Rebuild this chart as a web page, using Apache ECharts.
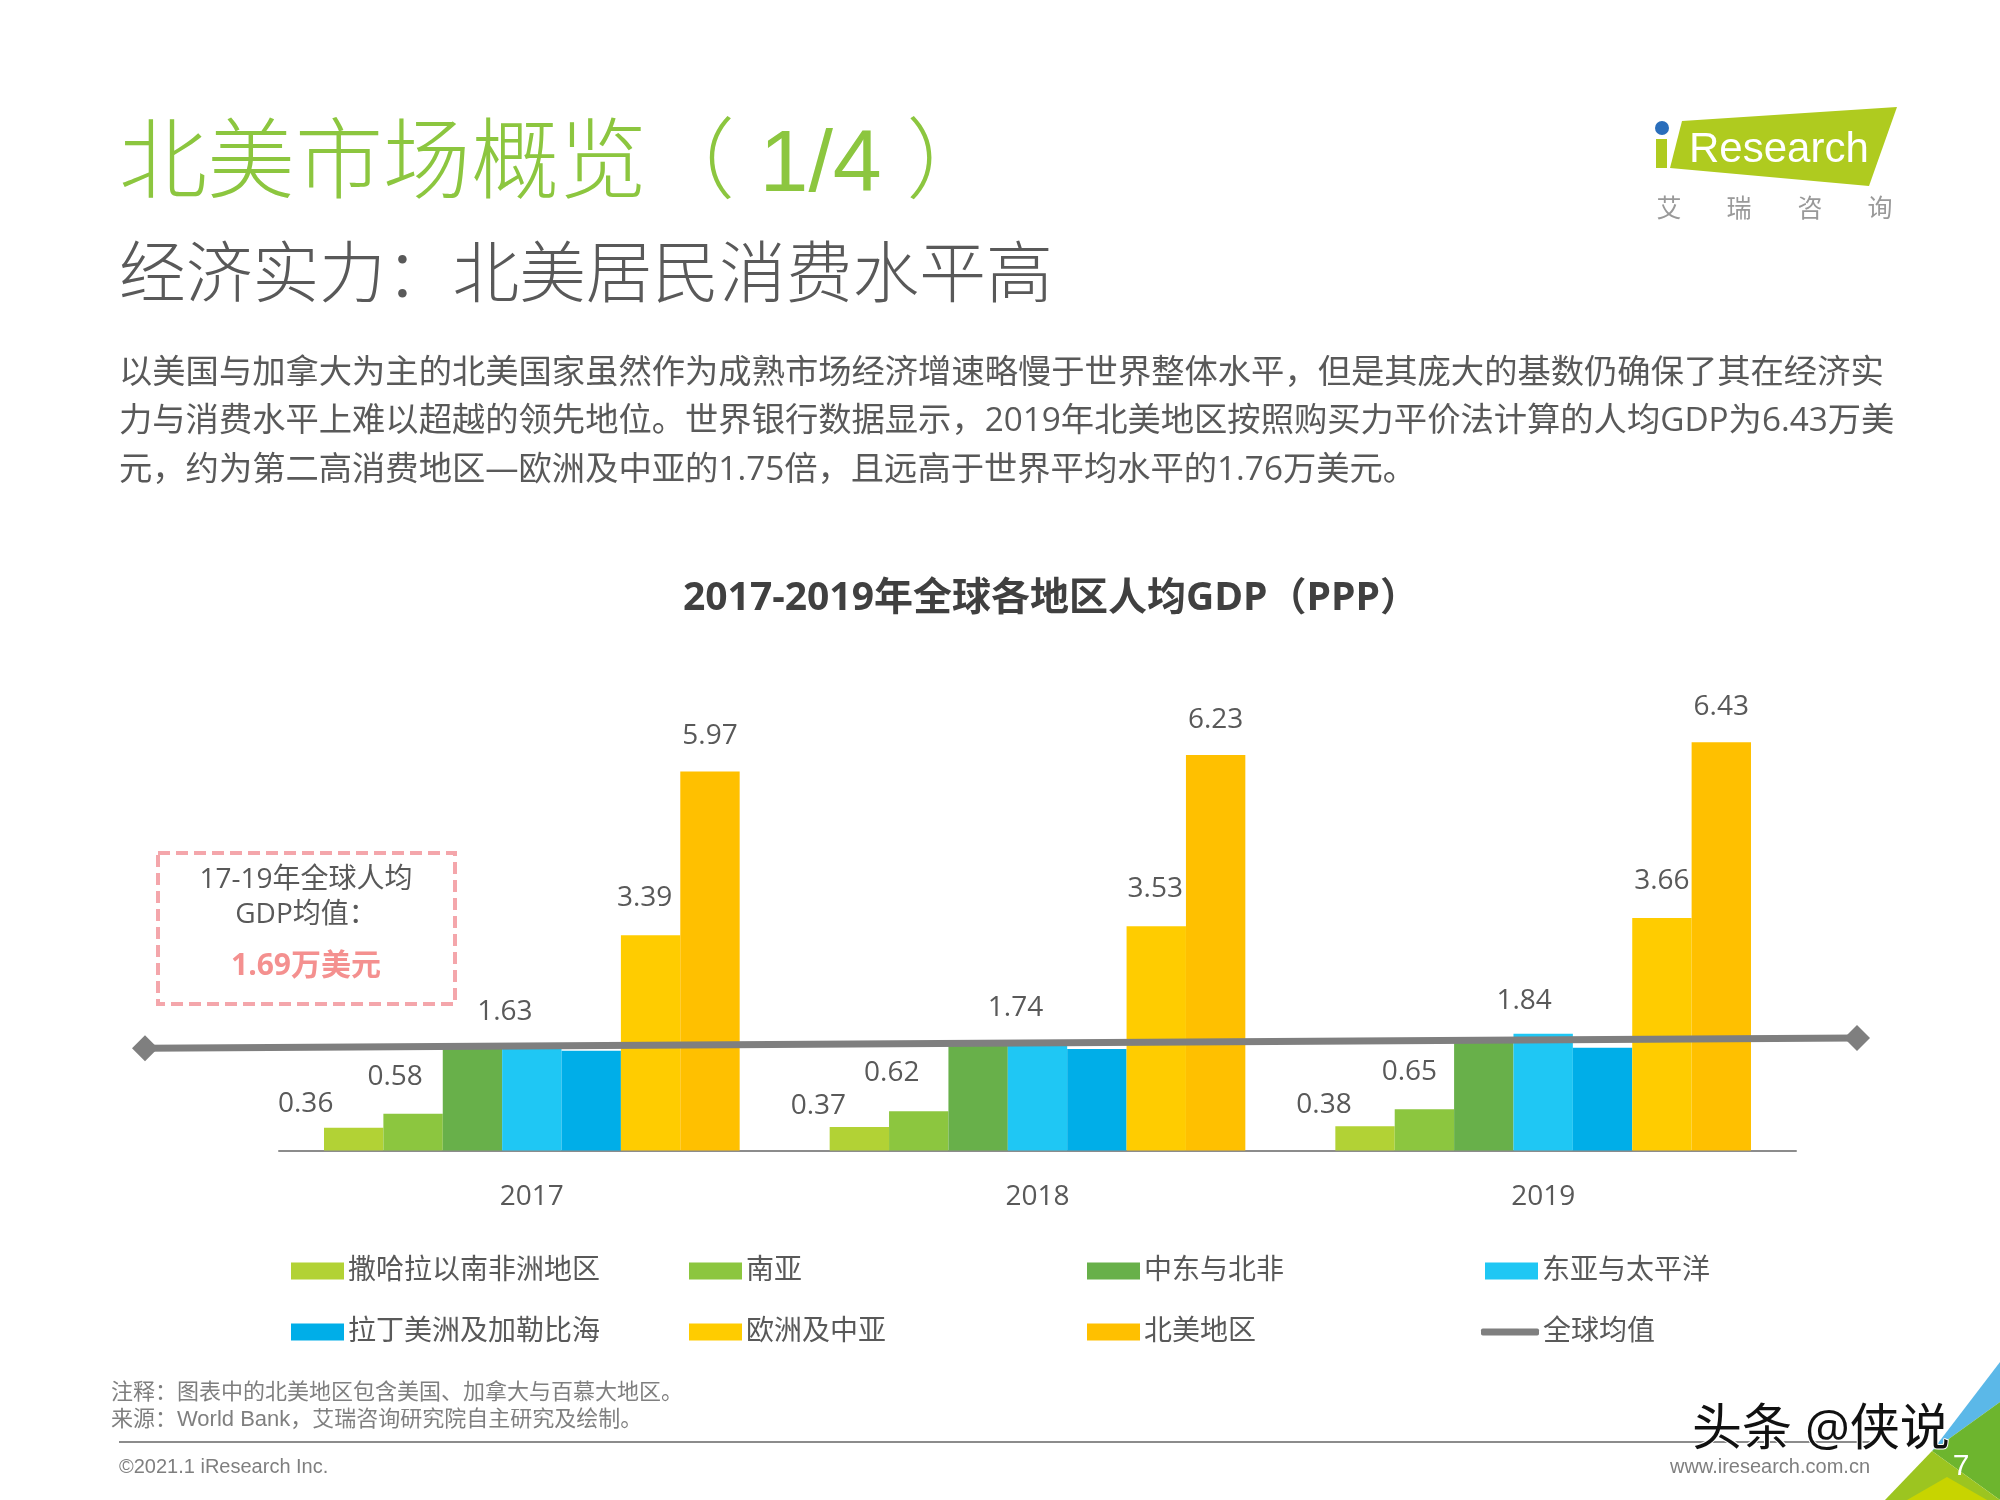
<!DOCTYPE html>
<html>
<head>
<meta charset="utf-8">
<title>北美市场概览</title>
<script src="https://cdn.jsdelivr.net/npm/echarts@6/dist/echarts.min.js"></script>
<style>
  html, body { margin: 0; padding: 0; background: #fff; }
  #main { width: 2000px; height: 1500px; }
</style>
</head>
<body>
<div id="main"></div>
<script>
// data
const years = ['2017', '2018', '2019'];
const regions = ['撒哈拉以南非洲地区', '南亚', '中东与北非', '东亚与太平洋', '拉丁美洲及加勒比海', '欧洲及中亚', '北美地区'];
const subSaharan = [0.36, 0.37, 0.38];
const southAsia = [0.58, 0.62, 0.65];
const middleEast = [1.64, 1.68, 1.71];
const eastAsia = [1.63, 1.74, 1.84];
const latinAmerica = [1.57, 1.60, 1.62];
const europe = [3.39, 3.53, 3.66];
const northAmerica = [5.97, 6.23, 6.43];
const avgName = '全球均值';
const avgEnds = [1.61, 1.77];

const paragraph = [
  '以美国与加拿大为主的北美国家虽然作为成熟市场经济增速略慢于世界整体水平，但是其庞大的基数仍确保了其在经济实',
  '力与消费水平上难以超越的领先地位。世界银行数据显示，2019年北美地区按照购买力平价法计算的人均GDP为6.43万美',
  '元，约为第二高消费地区—欧洲及中亚的1.75倍，且远高于世界平均水平的1.76万美元。'
];

const FONT = '"Open Sans", "Noto Sans CJK SC", sans-serif';
const ARIAL = '"Liberation Sans", "Noto Sans CJK SC", sans-serif';
const TEXT_GRAY = '#595959';

// bar series; labelShift moves the hand placed labels of the original
const barSeries = [
  { values: subSaharan, color: '#b2d235', labelShift: [[-48, -5], [-41, -2], [-41, -2]] },
  { values: southAsia, color: '#8cc63f', labelShift: [[-18, -18], [-27, -19], [-15, -18]] },
  { values: middleEast, color: '#68b04a' },
  { values: eastAsia, color: '#1fc7f4', labelShift: [[-27, -16], [-22, -13], [-19, -14]] },
  { values: latinAmerica, color: '#00aee8' },
  { values: europe, color: '#ffcc00', labelShift: [[-6, -18], [-1, -18], [0, -18]] },
  { values: northAmerica, color: '#ffc000', labelShift: [[0, -16], [0, -16], [0, -16]] }
];

function txt(x, y, text, size, fill, extra) {
  return {
    type: 'text',
    silent: true,
    style: Object.assign({
      x: x, y: y, text: text, fontSize: size, fontFamily: FONT, fill: fill,
      align: 'left', verticalAlign: 'middle'
    }, extra || {})
  };
}

function poly(points, fill) {
  return { type: 'polygon', silent: true, shape: { points: points }, style: { fill: fill } };
}

const pageGraphics = [
  // heading
  txt(119, 167, '北美市场概览（ 1/4 ）', 88, '#8cc63f', { fontFamily: ARIAL, fontWeight: 300 }),
  txt(119, 278, '经济实力：北美居民消费水平高', 66.7, TEXT_GRAY, { fontWeight: 300 }),
  txt(119, 374, paragraph[0], 33.3, TEXT_GRAY),
  txt(119, 422, paragraph[1], 33.3, TEXT_GRAY),
  txt(119, 471, paragraph[2], 33.3, TEXT_GRAY),

  // logo
  poly([[1682, 121], [1897, 107], [1869, 186], [1670, 168]], '#afcb1f'),
  { type: 'rect', silent: true, shape: { x: 1656, y: 139, width: 11, height: 29 }, style: { fill: '#afcb1f' } },
  { type: 'circle', silent: true, shape: { cx: 1662, cy: 128, r: 7 }, style: { fill: '#2a6ebb' } },
  txt(1689, 150, 'Research', 42, '#fff', { fontFamily: ARIAL }),
  txt(1669, 210, '艾', 25, '#999', { align: 'center' }),
  txt(1739, 210, '瑞', 25, '#999', { align: 'center' }),
  txt(1810, 210, '咨', 25, '#999', { align: 'center' }),
  txt(1880, 210, '询', 25, '#999', { align: 'center' }),

  // dashed callout
  {
    type: 'rect', silent: true,
    shape: { x: 158, y: 853, width: 297, height: 151 },
    style: { fill: 'none', stroke: '#f4a6ab', lineWidth: 4, lineDash: [12, 6] }
  },
  txt(306, 880, '17-19年全球人均', 28, TEXT_GRAY, { align: 'center' }),
  txt(306, 915, 'GDP均值：', 28, TEXT_GRAY, { align: 'center' }),
  txt(306, 966, '1.69万美元', 30, '#f4908f', { align: 'center', fontWeight: 'bold' }),

  // footer
  txt(111, 1393, '注释：图表中的北美地区包含美国、加拿大与百慕大地区。', 22, '#7f7f7f', { fontFamily: ARIAL }),
  txt(111, 1420, '来源：World Bank，艾瑞咨询研究院自主研究及绘制。', 22, '#7f7f7f', { fontFamily: ARIAL }),
  { type: 'rect', silent: true, shape: { x: 119, y: 1441, width: 1751, height: 2 }, style: { fill: '#8c8c8c' } },
  txt(119, 1467, '©2021.1 iResearch Inc.', 20, '#7f7f7f', { fontFamily: ARIAL }),
  txt(1870, 1467, 'www.iresearch.com.cn', 20, '#7f7f7f', { fontFamily: ARIAL, align: 'right' }),

  // corner triangles
  poly([[2000, 1362], [1932, 1451], [2000, 1402]], '#5bb8e8'),
  poly([[2000, 1402], [1932, 1451], [2000, 1500]], '#6db52e'),
  poly([[1932, 1451], [1885, 1500], [2000, 1500]], '#9cc520'),
  poly([[1907, 1500], [1947, 1477], [1987, 1500]], '#c8d400'),
  txt(1961, 1467, '7', 30, '#fff', { align: 'center', fontFamily: ARIAL }),

  // watermark
  txt(1692, 1431, '头条 @侠说', 50, '#111', { stroke: '#fff', lineWidth: 2 })
];

// every legend entry sits in its own cell of a 4 x 2 table
const legendCols = [286, 684, 1082, 1480];
const legendRows = [1268, 1329];
const legendNames = regions.concat([avgName]);
const legends = legendNames.map(function (name, i) {
  const isLine = name === avgName;
  return {
    data: [{ name: name, icon: isLine ? 'roundRect' : 'rect' }],
    left: legendCols[i % 4] - (isLine ? 4 : 0),
    top: legendRows[Math.floor(i / 4)] - 16,
    itemWidth: isLine ? 58 : 53,
    itemHeight: isLine ? 7 : 17,
    selectedMode: false,
    textStyle: { fontSize: 28, color: TEXT_GRAY, fontFamily: FONT, padding: [0, 0, 0, -1] }
  };
});

const series = barSeries.map(function (s, i) {
  return {
    name: regions[i],
    type: 'bar',
    barGap: 0,
    barCategoryGap: '17.8%',
    itemStyle: { color: s.color },
    data: s.values.map(function (v, j) {
      const item = { value: v };
      if (s.labelShift) {
        item.label = {
          show: true,
          position: 'top',
          distance: 5,
          offset: s.labelShift[j],
          fontSize: 28,
          color: TEXT_GRAY,
          fontFamily: FONT
        };
      }
      return item;
    })
  };
});

// the average line runs past the bars, so it gets a wider grid of its own
series.push({
  name: avgName,
  type: 'line',
  xAxisIndex: 1,
  yAxisIndex: 1,
  z: 5,
  symbol: 'diamond',
  symbolSize: 26,
  lineStyle: { color: '#7f7f7f', width: 7 },
  itemStyle: { color: '#7f7f7f' },
  data: avgEnds
});

const myChart = echarts.init(document.getElementById('main'));
myChart.setOption({
  animation: false,
  backgroundColor: '#fff',
  title: {
    text: '2017-2019年全球各地区人均GDP（PPP）',
    left: 1046,
    top: 574,
    textAlign: 'center',
    textStyle: { fontSize: 39, fontWeight: 'bold', color: '#404040', fontFamily: FONT }
  },
  legend: legends,
  grid: [
    { left: 279, width: 1517, top: 706, height: 444.5 },
    { left: 145, width: 1712, top: 706, height: 444.5 }
  ],
  xAxis: [
    {
      type: 'category',
      data: years,
      axisLine: { lineStyle: { color: '#8c8c8c', width: 2 } },
      axisTick: { show: false },
      axisLabel: { fontSize: 28, color: TEXT_GRAY, fontFamily: FONT, margin: 33 }
    },
    {
      type: 'category',
      gridIndex: 1,
      show: false,
      boundaryGap: false,
      data: ['start', 'end']
    }
  ],
  yAxis: [
    { type: 'value', min: 0, max: 7, show: false, splitLine: { show: false } },
    { type: 'value', gridIndex: 1, min: 0, max: 7, show: false, splitLine: { show: false } }
  ],
  series: series,
  graphic: { elements: pageGraphics }
});
</script>
</body>
</html>
